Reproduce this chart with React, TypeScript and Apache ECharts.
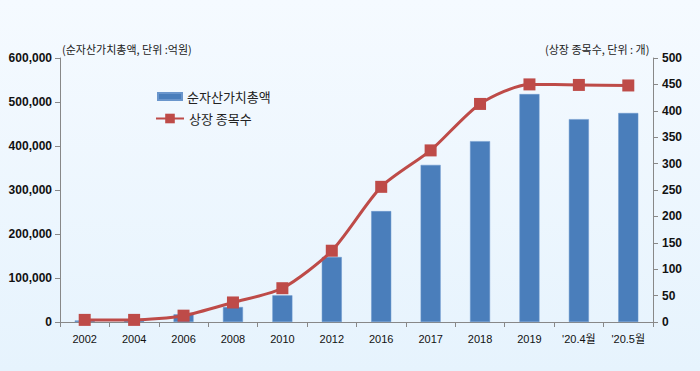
import React, { useEffect, useRef } from "react";
import * as echarts from "echarts";

const categories = ["2002", "2004", "2006", "2008", "2010", "2012", "2016", "2017", "2018", "2019", "'20.4월", "'20.5월"];
const netAssets = [3400, 3300, 17500, 34000, 60600, 147700, 252000, 357000, 411000, 518000, 461000, 475000];
const listedCount = [4, 4, 12, 37, 64, 135, 256, 325, 413, 450, 449, 448];
const barName = "순자산가치총액";
const lineName = "상장 종목수";

const FONT = "'Liberation Sans', 'Noto Sans CJK KR', sans-serif";
const KFONT = "'Noto Sans CJK KR', 'Liberation Sans', sans-serif";

export default function App() {
  const ref = useRef<HTMLDivElement>(null);
  useEffect(() => {
    if (!ref.current) return;
    const chart = echarts.init(ref.current, undefined, { renderer: "svg" });
    chart.setOption({
      animation: false,
      backgroundColor: {
        type: "linear", x: 0, y: 0, x2: 0, y2: 1,
        colorStops: [
          { offset: 0, color: "#f5faff" },
          { offset: 1, color: "#e6f3fd" },
        ],
      },
      grid: { left: 60, right: 47, top: 58, bottom: 49 },
      legend: [
        {
          data: [{ name: barName, icon: "rect" }],
          orient: "vertical",
          left: 157,
          top: 90,
          padding: 0,
          itemWidth: 24,
          itemHeight: 7,
          textStyle: { fontFamily: KFONT, fontSize: 13, color: "#222" },
        },
        {
          data: [lineName],
          orient: "vertical",
          left: 155,
          top: 112,
          padding: 0,
          itemWidth: 28,
          itemHeight: 12,
          textStyle: { fontFamily: KFONT, fontSize: 13, color: "#222" },
        },
      ],
      graphic: [
        {
          type: "text",
          left: 62,
          top: 43,
          style: { text: "(순자산가치총액, 단위 :억원)", font: "11px " + KFONT, fill: "#222" },
        },
        {
          type: "text",
          left: 545,
          top: 43,
          style: { text: "(상장 종목수, 단위 : 개)", font: "11px " + KFONT, fill: "#222" },
        },
      ],
      xAxis: {
        type: "category",
        data: categories,
        boundaryGap: true,
        axisLine: { lineStyle: { color: "#888", width: 1 } },
        axisTick: { show: true, length: 5, lineStyle: { color: "#888" } },
        axisLabel: { fontFamily: FONT, fontSize: 11, color: "#111", margin: 11 },
      },
      yAxis: [
        {
          type: "value",
          min: 0,
          max: 600000,
          interval: 100000,
          splitLine: { show: false },
          axisLine: { show: true, lineStyle: { color: "#888" } },
          axisTick: { show: true, length: 5, lineStyle: { color: "#888" } },
          axisLabel: {
            fontFamily: FONT,
            fontSize: 12,
            fontWeight: "bold",
            color: "#111",
            margin: 8,
            formatter: (v: number) => v.toLocaleString("en-US"),
          },
        },
        {
          type: "value",
          min: 0,
          max: 500,
          interval: 50,
          position: "right",
          splitLine: { show: false },
          axisLine: { show: true, lineStyle: { color: "#888" } },
          axisTick: { show: true, length: 5, lineStyle: { color: "#888" } },
          axisLabel: { fontFamily: FONT, fontSize: 12, fontWeight: "bold", color: "#111", margin: 9 },
        },
      ],
      series: [
        {
          name: barName,
          type: "bar",
          data: netAssets,
          yAxisIndex: 0,
          barWidth: 20,
          itemStyle: { color: "#4a7ebb", borderColor: "#6a96cc", borderWidth: 0.5 },
        },
        {
          name: lineName,
          type: "line",
          data: listedCount,
          yAxisIndex: 1,
          smooth: 0.25,
          symbol: "rect",
          symbolSize: 12,
          lineStyle: { color: "#be4b48", width: 3 },
          itemStyle: { color: "#be4b48" },
          z: 5,
        },
      ],
    });
    return () => chart.dispose();
  }, []);
  return <div ref={ref} style={{ position: "fixed", left: 0, top: 0, width: 700, height: 371 }} />;
}
